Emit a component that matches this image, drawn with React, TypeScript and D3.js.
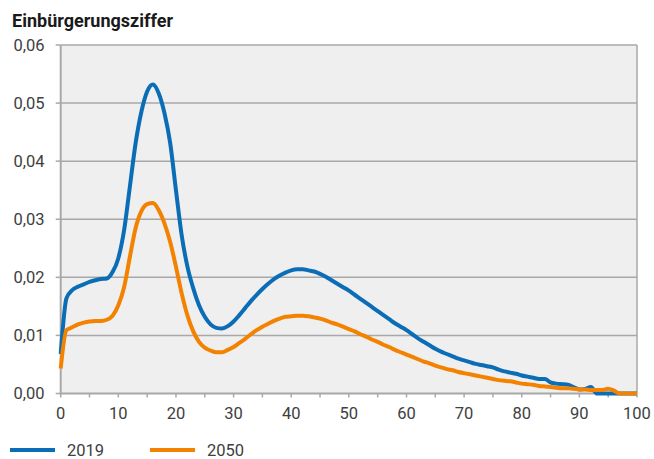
import React from "react";
import * as d3 from "d3";

const ages: number[] = d3.range(0, 101);
const series2019: number[] = [
  0.0068, 0.0164, 0.0178, 0.0184, 0.0188, 0.0192, 0.0195, 0.0197, 0.0198, 0.0209,
  0.0233, 0.0281, 0.0356, 0.0431, 0.0485, 0.052, 0.0532, 0.0517, 0.0483, 0.0431,
  0.035, 0.0272, 0.0218, 0.0181, 0.0152, 0.0132, 0.0119, 0.0113, 0.0112, 0.0116,
  0.0124, 0.0135, 0.0147, 0.0159, 0.017, 0.018, 0.0189, 0.0197, 0.0203, 0.0208,
  0.0212, 0.0214, 0.0214, 0.0212, 0.021, 0.0206, 0.0201, 0.0195, 0.0189, 0.0183,
  0.0177, 0.017, 0.0163, 0.0156, 0.0149, 0.0142, 0.0135, 0.0128, 0.0121, 0.0115,
  0.0109, 0.0102, 0.0095, 0.0089, 0.0083, 0.0077, 0.0072, 0.0068, 0.0064, 0.006,
  0.0057, 0.0054, 0.0051, 0.0049, 0.0047, 0.0045, 0.0041, 0.0038, 0.0036, 0.0034,
  0.0031, 0.0029, 0.0027, 0.0025, 0.0025, 0.0019, 0.0017, 0.0016, 0.0015, 0.0011,
  0.0007, 0.0008, 0.0011, 0.0, 0.0, 0.0, 0.0, 0.0, 0.0, 0.0, 0.0,
];
const series2050: number[] = [
  0.0043, 0.0109, 0.0114, 0.0119, 0.0122, 0.0124, 0.0125, 0.0125, 0.0127, 0.0134,
  0.0152, 0.0183, 0.0235, 0.0285, 0.0314, 0.0326, 0.0328, 0.0316, 0.0293, 0.0261,
  0.0218, 0.0172, 0.0134, 0.0107, 0.0089, 0.0079, 0.0074, 0.0071, 0.0071, 0.0075,
  0.008, 0.0087, 0.0094, 0.0102, 0.0109, 0.0115, 0.012, 0.0125, 0.0129, 0.0132,
  0.0133, 0.0134, 0.0134, 0.0133, 0.0131, 0.0129, 0.0126, 0.0122, 0.0119, 0.0115,
  0.0111, 0.0107, 0.0102, 0.0098, 0.0093, 0.0089, 0.0084, 0.008, 0.0075, 0.0071,
  0.0067, 0.0063, 0.0059, 0.0055, 0.0052, 0.0048, 0.0045, 0.0042, 0.004, 0.0037,
  0.0035, 0.0033, 0.0031, 0.0029, 0.0027, 0.0025, 0.0023, 0.0022, 0.0021, 0.0019,
  0.0017, 0.0016, 0.0015, 0.0013, 0.0012, 0.0011, 0.001, 0.0009, 0.0009, 0.0008,
  0.0007, 0.0007, 0.0006, 0.0006, 0.0006, 0.0008, 0.0005, 0.0, 0.0, 0.0, 0.0,
];
const yTicks: number[] = [0, 0.01, 0.02, 0.03, 0.04, 0.05, 0.06];
const xTicks: number[] = [0, 10, 20, 30, 40, 50, 60, 70, 80, 90, 100];
const xMinorTicks: number[] = d3.range(0, 101, 5);
const seriesNames: string[] = ["2019", "2050"];
const seriesColors: string[] = ["#0a6db6", "#f28200"];
const title = "Einbürgerungsziffer";

const W = 654;
const H = 459;
const left = 60.7;
const right = 637;
const top = 45;
const bottom = 393.5;

export default function App() {
  const x = d3.scaleLinear().domain([0, 100]).range([left, right]);
  const y = d3.scaleLinear().domain([0, 0.06]).range([bottom, top]);
  const line = d3
    .line<number>()
    .x((_, i) => x(ages[i]))
    .y((d) => y(d))
    .curve(d3.curveMonotoneX);
  const all = [series2019, series2050];
  const font = "Roboto, 'Noto Sans', sans-serif";
  const grid = "#a8a8a8";
  return (
    <div style={{ position: "absolute", left: 0, top: 0 }}>
      <svg width={W} height={H} style={{ display: "block" }} fontFamily={font}>
        <rect x={0} y={0} width={W} height={H} fill="#ffffff" />
        <text
          x={12}
          y={27}
          fontSize={17.5}
          fontWeight={700}
          fill="#1a1a1a"
          textLength={161}
          lengthAdjust="spacingAndGlyphs"
        >
          {title}
        </text>
        <rect x={left} y={top} width={right - left} height={bottom - top} fill="#efefef" />
        {yTicks.map((t) => (
          <g key={t}>
            {t > 0 && (
              <line x1={left} x2={right} y1={y(t)} y2={y(t)} stroke={grid} strokeWidth={1.5} />
            )}
            <line x1={left - 5} x2={left} y1={y(t)} y2={y(t)} stroke={grid} strokeWidth={1.5} />
            <text
              x={44.5}
              y={y(t)}
              dy="0.36em"
              textAnchor="end"
              fontSize={16.5}
              fill="#404040"
            >
              {d3.format(".2f")(t).replace(".", ",")}
            </text>
          </g>
        ))}
        <line x1={right} x2={right} y1={top} y2={bottom} stroke={grid} strokeWidth={1.5} />
        {xMinorTicks.map((t) => (
          <line key={t} x1={x(t)} x2={x(t)} y1={bottom} y2={bottom + 4} stroke={grid} strokeWidth={1.5} />
        ))}
        {xTicks.map((t) => (
          <text key={t} x={x(t)} y={419} textAnchor="middle" fontSize={16.5} fill="#404040">
            {t}
          </text>
        ))}
        <line x1={left} x2={left} y1={top} y2={bottom + 1} stroke={grid} strokeWidth={2} />
        <line x1={left} x2={right} y1={bottom} y2={bottom} stroke={grid} strokeWidth={2} />
        {all.map((s, i) => (
          <path
            key={i}
            d={line(s) || ""}
            fill="none"
            stroke={seriesColors[i]}
            strokeWidth={4}
            strokeLinejoin="round"
          />
        ))}
        {seriesNames.map((n, i) => (
          <g key={n} transform={`translate(${10 + i * 140},450)`}>
            <line x1={0} x2={45} y1={0} y2={0} stroke={seriesColors[i]} strokeWidth={4} />
            <text x={57} y={0} dy="0.36em" fontSize={16.5} fill="#404040">
              {n}
            </text>
          </g>
        ))}
      </svg>
    </div>
  );
}
